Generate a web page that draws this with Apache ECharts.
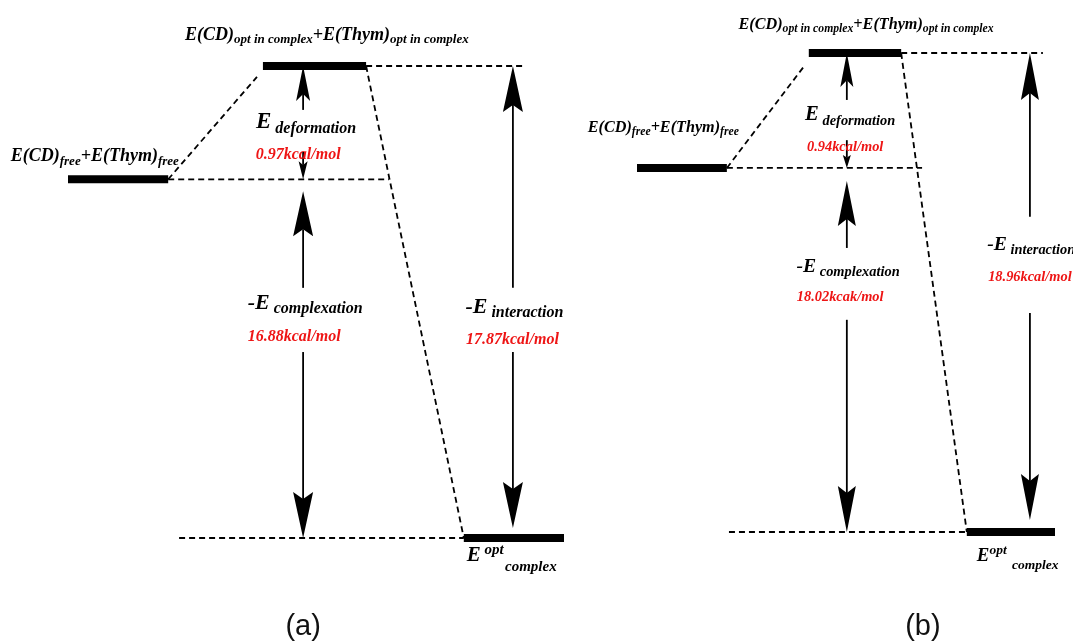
<!DOCTYPE html>
<html><head><meta charset="utf-8">
<script src="https://cdn.jsdelivr.net/npm/echarts@6/dist/echarts.min.js"></script>
<style>html,body{margin:0;padding:0;background:#fff}#c{width:1073px;height:641px}</style>
</head><body><div id="c"></div>
<script>
// ---------------- data ----------------
const panelNames = ['(a)', '(b)'];
const levelNames = ['free', 'opt in complex', 'complex'];
const levelHeights = [76, 100, 0];            // schematic diagram heights (not to scale)
const deformationE = [0.97, 0.94];             // kcal/mol
const complexationE = [16.88, 18.02];          // kcal/mol
const interactionE = [17.87, 18.96];           // kcal/mol
const complexationUnit = ['kcal/mol', 'kcak/mol'];
const energyUnit = 'kcal/mol';

// ---------------- layout (diagram units 0..100) ----------------
const layout = [
  { grid: {left: 68, top: 66, width: 496, height: 472}, s: 1,
    bars: [[0, 20.2], [39.3, 60.1], [79.8, 100]],
    dashFreeEnd: 64.7, dashOptEnd: 91.9, dashComplexStart: 22.4, slantLeftEnd: [38.1, 97.7],
    xMid: 47.4, xRight: 89.7,
    defUpFrom: 90.7, defDownFrom: 81.8, compUpFrom: 53, compDownFrom: 39.4, intUpFrom: 53, intDownFrom: 39.4,
    compUpGap: 12, intDownGap: 10,
    heads: {defUp: [35, 14], defDown: [18, 9], compUp: [45, 20], compDown: [46, 20], intUp: [46, 20], intDown: [46, 20]},
    txt: {top: [52.2, 106.6], free: [5.4, 80.9], def: [48.0, 88.1], defVal: [46.4, 81.1],
          comp: [47.8, 49.8], compVal: [45.6, 42.6], int: [90.0, 48.9], intVal: [89.6, 41.9],
          eopt: [80.4, -3.8], complex: [88.1, -6.1], name: [47.4, -18.9]} },
  { grid: {left: 637, top: 53, width: 418, height: 479}, s: 0.9,
    bars: [[0, 21.5], [41.1, 63.2], [78.9, 100]],
    dashFreeEnd: 68.2, dashOptEnd: 97.1, dashComplexStart: 22.0, slantLeftEnd: [40.2, 97.5],
    xMid: 50.2, xRight: 94.0,
    defUpFrom: 90.2, defDownFrom: 81.8, compUpFrom: 59.3, compDownFrom: 44.3, intUpFrom: 65.8, intDownFrom: 45.7,
    compUpGap: 13, intDownGap: 12,
    heads: {defUp: [34, 13], defDown: [13, 8], compUp: [45, 18], compDown: [46, 18], intUp: [47, 18], intDown: [46, 18]},
    txt: {top: [54.8, 105.8], free: [6.3, 84.3], def: [51.0, 87.1], defVal: [49.8, 80.4],
          comp: [50.5, 55.3], compVal: [48.6, 48.9], int: [94.3, 59.9], intVal: [94.0, 53.2],
          eopt: [81.3, -5.0], complex: [89.7, -7.1], name: [68.4, -19.8]} }
];

const SERIF = '"Liberation Serif", "Times New Roman", serif';
const RED = '#ee1515';
function rs(size, va, color) {
  return {fontFamily: SERIF, fontStyle: 'italic', fontWeight: 'bold', fontSize: size,
          lineHeight: Math.round(size * 1.25), verticalAlign: va || 'middle', fill: color || '#000'};
}

function buildPanel(i) {
  const L = layout[i], s = L.s;
  const [yFree, yOpt, yCx] = levelHeights;
  const els = [];
  // dashed connectors
  els.push({t: 'dash', pts: [[L.bars[0][1], yFree], [L.dashFreeEnd, yFree]]});
  els.push({t: 'dash', pts: [[L.bars[1][1], yOpt], [L.dashOptEnd, yOpt]]});
  els.push({t: 'dash', pts: [[L.dashComplexStart, yCx], [L.bars[2][0], yCx]]});
  els.push({t: 'dash', pts: [[L.bars[0][1], yFree], L.slantLeftEnd]});
  els.push({t: 'dash', pts: [[L.bars[1][1], yOpt], [L.bars[2][0], yCx]]});
  // level bars
  levelHeights.forEach((h, k) => els.push({t: 'bar', x0: L.bars[k][0], x1: L.bars[k][1], y: h}));
  // arrows
  els.push({t: 'arrow', x: L.xMid, from: L.defUpFrom, tip: yOpt, gap: 0, head: L.heads.defUp});
  els.push({t: 'arrow', x: L.xMid, from: L.defDownFrom, tip: yFree, gap: 0, head: L.heads.defDown});
  els.push({t: 'arrow', x: L.xMid, from: L.compUpFrom, tip: yFree, gap: L.compUpGap, head: L.heads.compUp});
  els.push({t: 'arrow', x: L.xMid, from: L.compDownFrom, tip: yCx, gap: 0, head: L.heads.compDown});
  els.push({t: 'arrow', x: L.xRight, from: L.intUpFrom, tip: yOpt, gap: 0, head: L.heads.intUp});
  els.push({t: 'arrow', x: L.xRight, from: L.intDownFrom, tip: yCx, gap: L.intDownGap, head: L.heads.intDown});
  // texts
  const T = L.txt;
  const main = 18 * s, sub = 13 * s;
  els.push({t: 'text', at: T.top, align: 'center',
    text: '{m|E(CD)}{s|' + levelNames[1] + '}{m|+E(Thym)}{s|' + levelNames[1] + '}',
    rich: {m: rs(main), s: rs(sub, 'bottom')}});
  els.push({t: 'text', at: T.free, align: 'center',
    text: '{m|E(CD)}{s|' + levelNames[0] + '}{m|+E(Thym)}{s|' + levelNames[0] + '}',
    rich: {m: rs(main), s: rs(sub, 'bottom')}});
  const big = 23 * s, mid = 16 * s;
  els.push({t: 'text', at: T.def, align: 'center', text: '{m|E}{s| deformation}',
    rich: {m: rs(big), s: rs(mid, 'bottom')}});
  els.push({t: 'text', at: T.comp, align: 'center', text: '{m|-E}{s| complexation}',
    rich: {m: rs(big - 1), s: rs(mid, 'bottom')}});
  els.push({t: 'text', at: T.int, align: 'center', text: '{m|-E}{s| interaction}',
    rich: {m: rs(big - 1), s: rs(mid, 'bottom')}});
  els.push({t: 'text', at: T.defVal, align: 'center', text: '{r|' + deformationE[i].toFixed(2) + energyUnit + '}',
    rich: {r: rs(16 * s, 'middle', RED)}});
  els.push({t: 'text', at: T.compVal, align: 'center', text: '{r|' + complexationE[i].toFixed(2) + complexationUnit[i] + '}',
    rich: {r: rs(16 * s, 'middle', RED)}});
  els.push({t: 'text', at: T.intVal, align: 'center', text: '{r|' + interactionE[i].toFixed(2) + energyUnit + '}',
    rich: {r: rs(16 * s, 'middle', RED)}});
  els.push({t: 'text', at: T.eopt, align: 'left', text: '{m|E}{p|' + (i === 0 ? ' ' : '') + 'opt}',
    rich: {m: rs(21 * s), p: rs(15 * s, 'top')}});
  els.push({t: 'text', at: T.complex, align: 'left', text: '{s|' + levelNames[2] + '}',
    rich: {s: rs(15 * s)}});
  els.push({t: 'label', at: T.name, text: panelNames[i]});
  return els;
}

const panels = [0, 1].map(buildPanel);

function makeRender(els) {
  return function (params, api) {
    const e = els[params.dataIndex];
    if (e.t === 'bar') {
      const p0 = api.coord([e.x0, e.y]), p1 = api.coord([e.x1, e.y]);
      return {type: 'line', shape: {x1: p0[0], y1: p0[1], x2: p1[0], y2: p1[1]},
              style: {stroke: '#000', lineWidth: 8, lineCap: 'butt'}};
    }
    if (e.t === 'dash') {
      return {type: 'polyline', shape: {points: e.pts.map(p => api.coord(p))},
              style: {stroke: '#000', lineWidth: 1.8, lineDash: [6, 4], fill: null}};
    }
    if (e.t === 'arrow') {
      const f = api.coord([e.x, e.from]);
      const t = api.coord([e.x, e.tip]);
      const dir = t[1] > f[1] ? 1 : -1;
      const tipY = t[1] - dir * e.gap;
      const [len, w] = e.head;
      const baseY = tipY - dir * len;
      const notchY = baseY + dir * Math.min(7, len * 0.2);
      const x = t[0];
      return {type: 'group', children: [
        {type: 'line', shape: {x1: x, y1: f[1], x2: x, y2: notchY}, style: {stroke: '#000', lineWidth: 1.8}},
        {type: 'polygon', shape: {points: [[x, tipY], [x - w / 2, baseY], [x, notchY], [x + w / 2, baseY]]},
         style: {fill: '#000'}}
      ]};
    }
    if (e.t === 'text') {
      const p = api.coord(e.at);
      return {type: 'text', x: p[0], y: p[1],
              style: {text: e.text, rich: e.rich, align: e.align, verticalAlign: 'middle',
                      fontFamily: SERIF, fontStyle: 'italic', fontWeight: 'bold', fontSize: 16, fill: '#000'}};
    }
    if (e.t === 'label') {
      const p = api.coord(e.at);
      return {type: 'text', x: p[0], y: p[1],
              style: {text: e.text, align: 'center', verticalAlign: 'middle',
                      fontFamily: '"Liberation Sans", Arial, sans-serif', fontSize: 29, fill: '#111'}};
    }
  };
}

const option = {
  animation: false,
  backgroundColor: '#fff',
  grid: layout.map(L => Object.assign({}, L.grid)),
  xAxis: layout.map((L, i) => ({type: 'value', gridIndex: i, min: 0, max: 100, show: false})),
  yAxis: layout.map((L, i) => ({type: 'value', gridIndex: i, min: 0, max: 100, show: false})),
  series: panels.map((els, i) => ({
    type: 'custom', xAxisIndex: i, yAxisIndex: i, clip: false, silent: true,
    renderItem: makeRender(els),
    data: els.map((e, k) => [k % 100, 50])
  }))
};

const chart = echarts.init(document.getElementById('c'), null, {renderer: 'canvas'});
chart.setOption(option);
</script>
</body></html>
